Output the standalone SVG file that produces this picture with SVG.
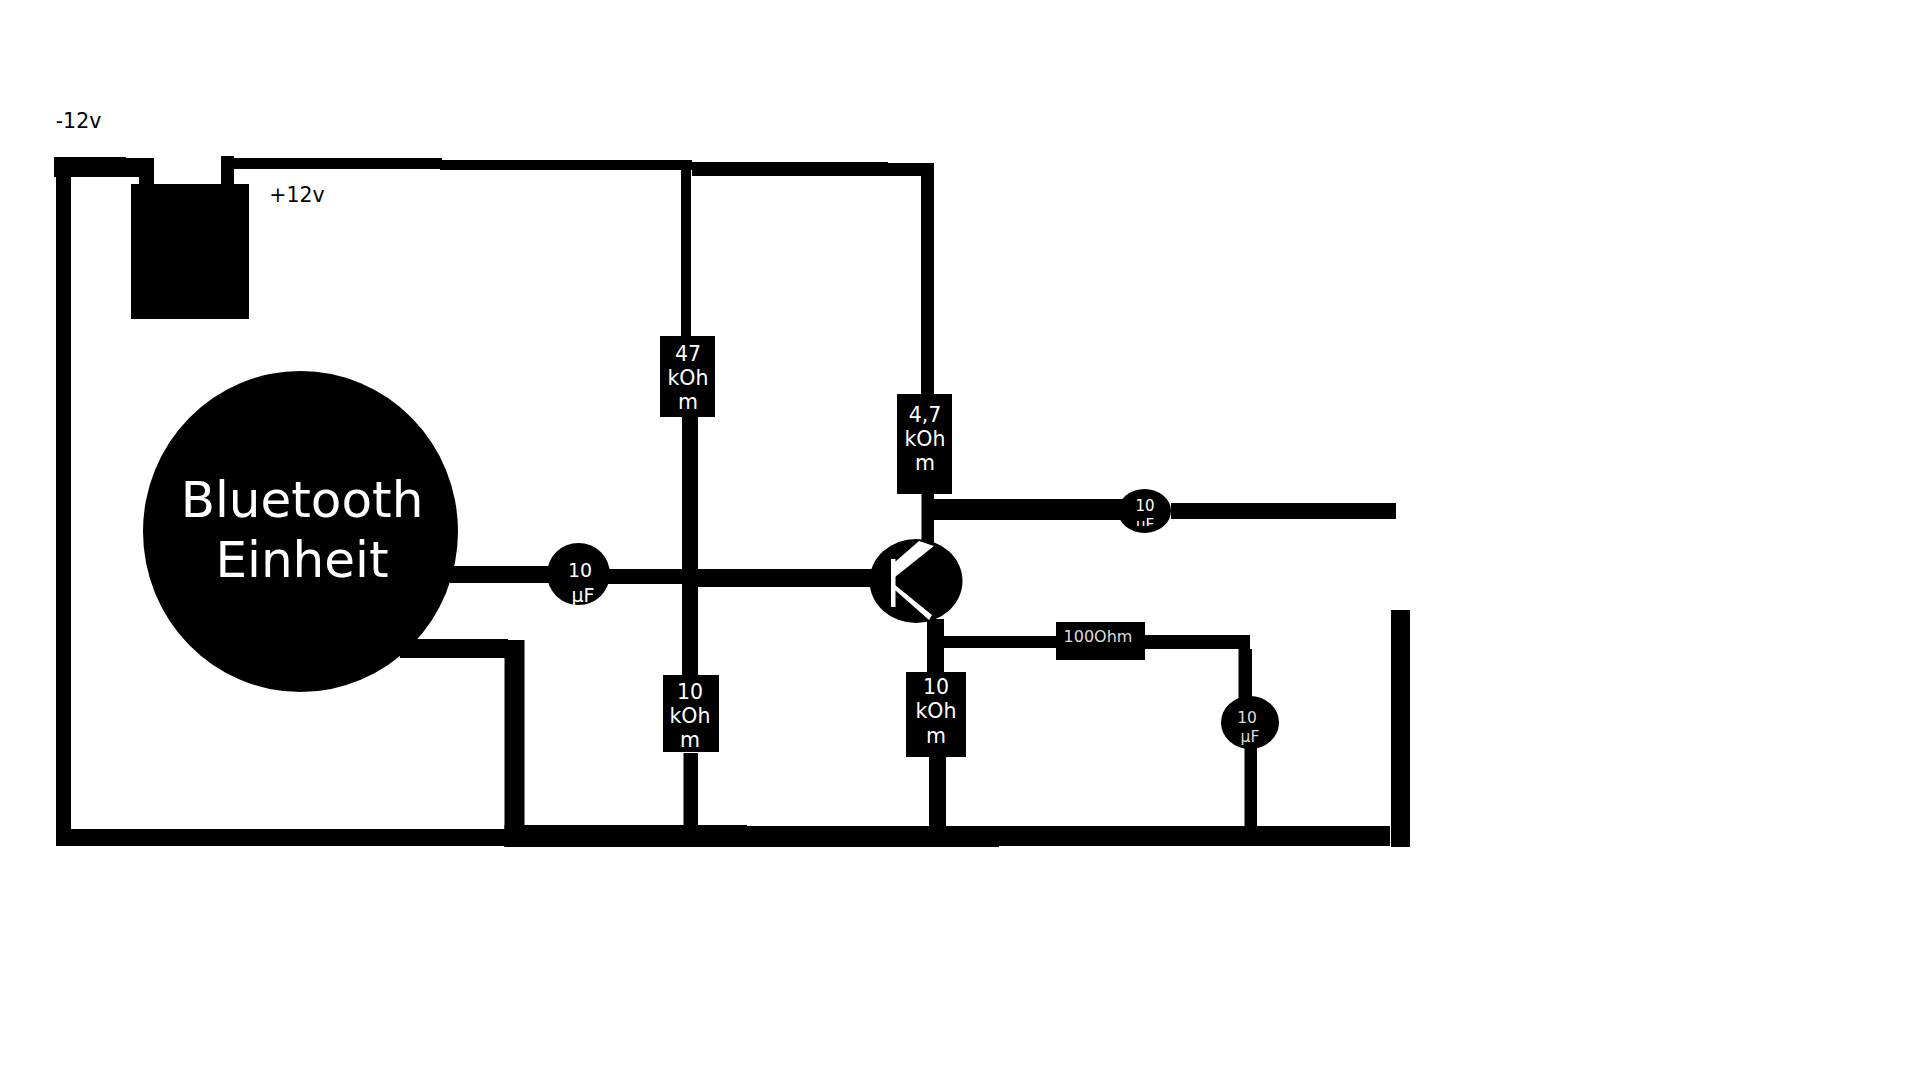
<svg xmlns="http://www.w3.org/2000/svg" width="1920" height="1080" viewBox="0 0 1920 1080">
<style>
text{font-family:"DejaVu Sans","Liberation Sans",sans-serif;text-anchor:middle}
.w{fill:#fff}.k{fill:#000}
.r{font-size:20.500px;fill:#fff}
.lab{font-size:20.500px;fill:#000}
.bt{font-size:50px;fill:#fff}
</style>
<defs><clipPath id="c2"><rect x="1110" y="485" width="70" height="41"/></clipPath></defs>
<rect width="1920" height="1080" fill="#fff"/>
<g id="connectors" class="k">
<rect x="54" y="157" width="72" height="20"/><rect x="126" y="158" width="28" height="19"/><rect x="139" y="170" width="15" height="16"/>
<rect x="56" y="170" width="15" height="676"/>
<rect x="221" y="156" width="13" height="30"/><rect x="234" y="158" width="208" height="11"/><rect x="440" y="160" width="252" height="10"/>
<rect x="692" y="162" width="196" height="14"/><rect x="888" y="163" width="46" height="13"/><rect x="921" y="163" width="13" height="235"/>
<rect x="681" y="165" width="10" height="175"/><rect x="682" y="415" width="16" height="262"/>
<rect x="683.500" y="753" width="14.500" height="75"/>
<rect x="56" y="829" width="450" height="17"/><rect x="504.500" y="825" width="242.500" height="22"/><rect x="747" y="826" width="252" height="21"/><rect x="999" y="826" width="391" height="20"/>
<rect x="504.500" y="640" width="20" height="207"/><rect x="400" y="639" width="108" height="19"/>
<rect x="450" y="566" width="100" height="17"/><rect x="608" y="569" width="74" height="15"/><rect x="698" y="569" width="175" height="18"/><rect x="682" y="569" width="16" height="15"/>
<rect x="921.500" y="492" width="12.500" height="50"/><rect x="934" y="499" width="188" height="21"/><rect x="1171" y="503" width="225" height="16"/>
<rect x="927" y="619" width="17" height="55"/><rect x="944" y="636" width="114" height="12"/><rect x="929" y="755" width="17" height="73"/>
<rect x="1143" y="635" width="107" height="14"/><rect x="1238.500" y="649" width="13.500" height="51"/><rect x="1244.500" y="745" width="12.500" height="83"/>
<rect x="1391" y="610" width="19" height="237"/>
</g>
<g id="battery"><rect class="k" x="131" y="184" width="118" height="135"/></g>
<g id="label-minus"><text class="lab" x="78.500" y="128">-12v</text></g>
<g id="label-plus"><text class="lab" x="297" y="202">+12v</text></g>
<g id="bluetooth"><ellipse class="k" cx="300.500" cy="531.500" rx="157.500" ry="160.500"/><text class="bt" x="302" y="517">Bluetooth</text><text class="bt" x="302" y="577">Einheit</text></g>
<g id="c1"><ellipse class="k" cx="578.500" cy="574" rx="31.500" ry="31"/><text x="580" y="577" font-size="19" class="w">10</text><text x="583" y="602" font-size="19" class="w">µF</text></g>
<g id="r47"><rect class="k" x="660" y="336" width="55" height="81"/><text class="r" x="688" y="361">47</text><text class="r" x="688" y="385">kOh</text><text class="r" x="688" y="409">m</text></g>
<g id="r47b"><rect class="k" x="897" y="394" width="55" height="100"/><text class="r" x="925" y="422">4,7</text><text class="r" x="925" y="446">kOh</text><text class="r" x="925" y="470">m</text></g>
<g id="r10a"><rect class="k" x="663" y="675" width="56" height="77"/><text class="r" x="690" y="699">10</text><text class="r" x="690" y="723">kOh</text><text class="r" x="690" y="747">m</text></g>
<g id="r10b"><rect class="k" x="906" y="672" width="60" height="85"/><text class="r" x="936" y="694">10</text><text class="r" x="936" y="718">kOh</text><text class="r" x="936" y="743">m</text></g>
<g id="r100"><rect class="k" x="1056" y="622" width="89" height="38"/><text x="1098" y="642" font-size="16" fill="#ddd">100Ohm</text></g>
<g id="c2n"><ellipse class="k" cx="1144.500" cy="511" rx="26.500" ry="22"/><text x="1145" y="511" font-size="15" class="w">10</text><text x="1145" y="530" font-size="15" class="w" clip-path="url(#c2)">µF</text></g>
<g id="c3"><ellipse class="k" cx="1250" cy="722.500" rx="29" ry="26.500"/><text x="1247" y="723" font-size="15.500" fill="#ddd">10</text><text x="1250" y="742" font-size="15.500" fill="#ddd">µF</text></g>
<g id="transistor"><ellipse class="k" cx="916" cy="581" rx="46.500" ry="42"/>
<rect class="w" x="891" y="559" width="4.500" height="48"/>
<polygon class="w" points="895,562 919,541 934,546 895,577"/>
<polygon class="w" points="895,585 932,615 929,620 895,590"/></g>
</svg>
